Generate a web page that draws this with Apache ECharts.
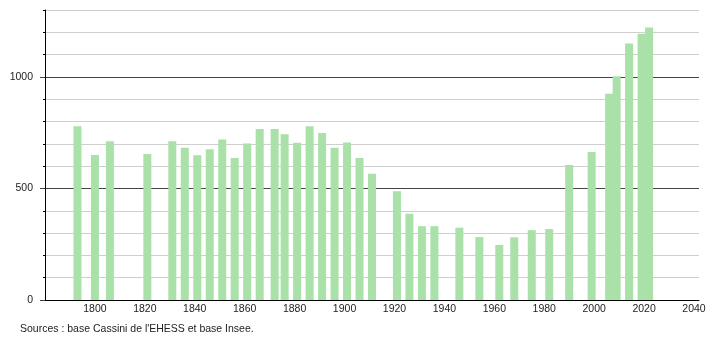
<!DOCTYPE html>
<html>
<head>
<meta charset="utf-8">
<script src="https://cdn.jsdelivr.net/npm/echarts@6/dist/echarts.min.js"></script>
<style>
html,body{margin:0;padding:0;background:#fff;}
#c{width:710px;height:340px;}
</style>
</head>
<body>
<div id="c"></div>
<script>
var years = [1793,1800,1806,1821,1831,1836,1841,1846,1851,1856,1861,1866,1872,1876,1881,1886,1891,1896,1901,1906,1911,1921,1926,1931,1936,1946,1954,1962,1968,1975,1982,1990,1999,2006,2009,2014,2019,2022];
var population = [779,650,712,654,712,682,649,676,720,637,702,766,766,743,705,779,749,682,706,637,566,488,387,331,331,324,282,247,281,313,318,605,664,925,1003,1150,1194,1221];
var yLabels = [0,500,1000];
var sourceText = "Sources : base Cassini de l'EHESS et base Insee.";

var chart = echarts.init(document.getElementById('c'), null, {renderer:'canvas'});
var data = years.map(function(y,i){return [y, population[i]];});
var font = 'Liberation Sans, Arial, sans-serif';
chart.setOption({
  animation:false,
  backgroundColor:'#fff',
  grid:{left:45, right:11, top:10, bottom:40, containLabel:false},
  xAxis:{
    type:'value', min:1780, max:2042, interval:20,
    axisLine:{show:true, onZero:false, lineStyle:{color:'#000', width:1}},
    axisTick:{show:false},
    splitLine:{show:false},
    axisLabel:{
      margin:4, color:'#222', fontSize:10.5, fontFamily:font,
      showMinLabel:false, showMaxLabel:false,
      formatter:function(v){ return (v>1780 && v%20===0) ? String(v) : ''; }
    }
  },
  yAxis:[{
    type:'value', min:0, max:1300, interval:100,
    axisLine:{show:true, lineStyle:{color:'#000', width:1}},
    axisTick:{show:true, length:2, lineStyle:{color:'#000'}},
    splitLine:{show:true, lineStyle:{color:['#444','#cfcfcf','#cfcfcf','#cfcfcf','#cfcfcf'], width:1}},
    axisLabel:{
      margin:12, color:'#222', fontSize:10.5, fontFamily:font,
      formatter:function(v){ return yLabels.indexOf(v)>=0 ? String(v) : ''; }
    }
  },{
    type:'value', min:0, max:1300, position:'left',
    axisLine:{show:false},
    axisTick:{show:true, length:5, customValues:yLabels, lineStyle:{color:'#444'}},
    axisLabel:{show:false},
    splitLine:{show:false}
  }],
  graphic:[{
    type:'text', left:20, top:324,
    style:{text:sourceText, fill:'#222', fontSize:10.5, fontFamily:font}
  }],
  series:[{
    type:'bar', data:data, barWidth:8,
    itemStyle:{color:'#a9e1a9'},
    silent:true
  }]
});
</script>
</body>
</html>
